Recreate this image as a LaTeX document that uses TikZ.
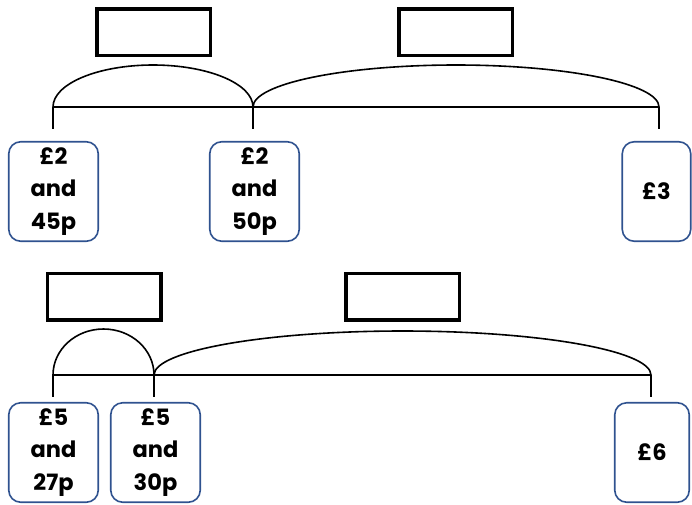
\documentclass[tikz,border=0pt]{standalone}
\usepackage{fontspec}
\setmainfont{Poppins}
\definecolor{boxblue}{HTML}{2F528F}
\begin{document}
\begin{tikzpicture}[x=1pt,y=1pt,
  valbox/.style={draw=boxblue, line width=1.6pt, rounded corners=12pt, minimum width=89.5pt, minimum height=99.5pt, align=center, font=\bfseries\fontsize{22.5}{32.5}\selectfont, inner sep=0pt},
  blank/.style={draw=black, line width=3.5pt, minimum width=113.5pt, minimum height=46.5pt, inner sep=0pt},
  bar/.style={line width=1.6pt}]
\useasboundingbox (0,0) rectangle (692,-504);
% ---------- top ----------
\node[blank] (t1) at (153.5,-32) {};
\node[blank] (t2) at (455.5,-32) {};
\node[valbox] (a1) at (53.5,-191.5) {£2\\and\\45p};
\node[valbox] (a2) at (254.5,-191.5) {£2\\and\\50p};
\node[valbox, minimum width=68.5pt] (a3) at (656.5,-191.5) {£3};
\coordinate (aL) at (53,-107);
\coordinate (aM) at (253,-107);
\coordinate (aR) at (659,-107);
\coordinate (aLd) at (53,-129);
\coordinate (aMd) at (253,-129);
\coordinate (aRd) at (659,-129);
\draw[bar] (aL) -- (aR);
\draw[bar] (aL) -- (aLd);
\draw[bar] (aM) -- (aMd);
\draw[bar] (aR) -- (aRd);
\draw[bar] (aL) arc[start angle=180, end angle=0, x radius=100, y radius=42];
\draw[bar] (aM) arc[start angle=180, end angle=0, x radius=203, y radius=42];
% ---------- bottom ----------
\node[blank] (t3) at (104,-296.5) {};
\node[blank] (t4) at (402.5,-296.5) {};
\node[valbox] (b1) at (53.5,-452.5) {£5\\and\\27p};
\node[valbox] (b2) at (155.5,-452.5) {£5\\and\\30p};
\node[valbox, minimum width=74.5pt] (b3) at (652,-452.5) {£6};
\coordinate (bL) at (53,-375);
\coordinate (bM) at (154,-375);
\coordinate (bR) at (651,-375);
\coordinate (bLd) at (53,-397);
\coordinate (bMd) at (154,-397);
\coordinate (bRd) at (651,-397);
\draw[bar] (bL) -- (bR);
\draw[bar] (bL) -- (bLd);
\draw[bar] (bM) -- (bMd);
\draw[bar] (bR) -- (bRd);
\draw[bar] (bL) arc[start angle=180, end angle=0, x radius=50.5, y radius=46];
\draw[bar] (bM) arc[start angle=180, end angle=0, x radius=248.5, y radius=44];
\end{tikzpicture}
\end{document}
